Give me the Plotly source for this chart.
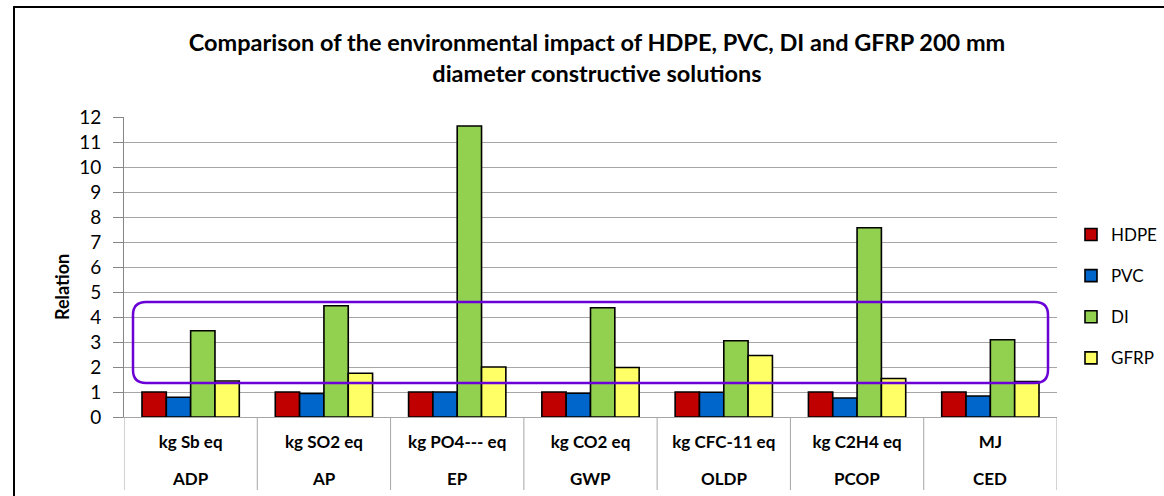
import plotly.graph_objects as go

# Impact categories and their reference units
categories = ["ADP", "AP", "EP", "GWP", "OLDP", "PCOP", "CED"]
units = ["kg Sb eq", "kg SO2 eq", "kg PO4--- eq", "kg CO2 eq", "kg CFC-11 eq", "kg C2H4 eq", "MJ"]

# Relative impact of each pipe material (HDPE = 1)
hdpe = [1.0, 1.0, 1.0, 1.0, 1.0, 1.0, 1.0]
pvc = [0.79, 0.94, 1.0, 0.95, 0.99, 0.76, 0.84]
di = [3.45, 4.45, 11.64, 4.37, 3.05, 7.57, 3.09]
gfrp = [1.44, 1.75, 2.0, 1.98, 2.46, 1.54, 1.42]

series = [
    ("HDPE", hdpe, "#C00000"),
    ("PVC", pvc, "#0066CC"),
    ("DI", di, "#92D050"),
    ("GFRP", gfrp, "#FFFF66"),
]

FONT = "Lato, Calibri, Carlito, sans-serif"
W, H = 1164, 496
ML, MR, MT, MB = 124, 107, 117, 79
PW, PH = W - ML - MR, H - MT - MB

def px_x(px):
    return (px - ML) / PW

def px_y(py):
    return (H - MB - py) / PH

fig = go.Figure()
xpos = list(range(len(categories)))
for name, vals, color in series:
    fig.add_trace(go.Bar(
        x=xpos, y=vals, name=name, legendgroup=name,
        marker=dict(color=color, line=dict(color="#000000", width=1.6)),
    ))

shapes = []
# vertical dividers of the category table under the axis
for k in range(len(categories) + 1):
    shapes.append(dict(
        type="line", xref="x", yref="paper",
        x0=k - 0.5, x1=k - 0.5, y0=0, y1=px_y(490),
        line=dict(color="#A6A6A6", width=1), layer="below",
    ))

# rounded highlight box around the 1.35-4.6 band
x0, x1 = px_x(133), px_x(1048)
y_top, y_bot = px_y(302), px_y(383)
rx, ry = 13 / PW, 13 / PH
path = (
    f"M {x0 + rx} {y_top} L {x1 - rx} {y_top} "
    f"Q {x1} {y_top} {x1} {y_top - ry} "
    f"L {x1} {y_bot + ry} Q {x1} {y_bot} {x1 - rx} {y_bot} "
    f"L {x0 + rx} {y_bot} Q {x0} {y_bot} {x0} {y_bot + ry} "
    f"L {x0} {y_top - ry} Q {x0} {y_top} {x0 + rx} {y_top} Z"
)
shapes.append(dict(type="path", xref="paper", yref="paper", path=path,
                   line=dict(color="#6A00D6", width=2.5)))

# outer chart frame
shapes.append(dict(type="rect", xref="paper", yref="paper",
                   x0=px_x(14), x1=px_x(1175), y0=px_y(505), y1=px_y(7),
                   line=dict(color="#000000", width=2)))

# second row of the category table: impact category names
annotations = [
    dict(x=i, xref="x", y=px_y(478), yref="paper", text=f"<b>{c}</b>",
         showarrow=False, xanchor="center", yanchor="middle",
         font=dict(size=17, family=FONT, color="#000000"))
    for i, c in enumerate(categories)
]
# y-axis title
annotations.append(dict(
    x=px_x(62), xref="paper", y=px_y(287), yref="paper",
    text="<b>Relation</b>", textangle=-90, showarrow=False,
    xanchor="center", yanchor="middle",
    font=dict(size=18, family=FONT, color="#000000"),
))

fig.update_layout(
    width=W, height=H,
    margin=dict(l=ML, r=MR, t=MT, b=MB),
    paper_bgcolor="white", plot_bgcolor="white",
    font=dict(family=FONT, color="#000000"),
    barmode="group", bargap=0.27, bargroupgap=0,
    title=dict(
        text="<b>Comparison of the environmental impact of HDPE, PVC, DI and GFRP 200 mm<br>diameter constructive solutions</b>",
        x=597 / W, xanchor="center", y=1 - 51 / H, yanchor="middle",
        font=dict(size=23.5, family=FONT, color="#000000"),
    ),
    xaxis=dict(
        tickmode="array", tickvals=xpos, ticktext=units,
        range=[-0.5, len(categories) - 0.5],
        showline=True, linecolor="#A6A6A6", linewidth=1,
        showgrid=False, ticks="", ticklabelstandoff=10,
        tickfont=dict(size=17, family=FONT, color="#000000", weight="bold"),
    ),
    yaxis=dict(
        range=[0, 12], dtick=1, tick0=0,
        showgrid=True, gridcolor="#A6A6A6", gridwidth=1,
        showline=True, linecolor="#868686", linewidth=1,
        ticks="outside", ticklen=10, tickcolor="#868686",
        ticklabelstandoff=8,
        tickfont=dict(size=19, family=FONT, color="#000000"),
        zeroline=False,
    ),
    legend=dict(
        x=1071 / W, xref="container", xanchor="left",
        y=px_y(296.5), yanchor="middle",
        font=dict(size=17, family=FONT, color="#000000"),
        tracegroupgap=16, bgcolor="rgba(0,0,0,0)",
    ),
    shapes=shapes,
    annotations=annotations,
)

fig.write_html("out.html")
